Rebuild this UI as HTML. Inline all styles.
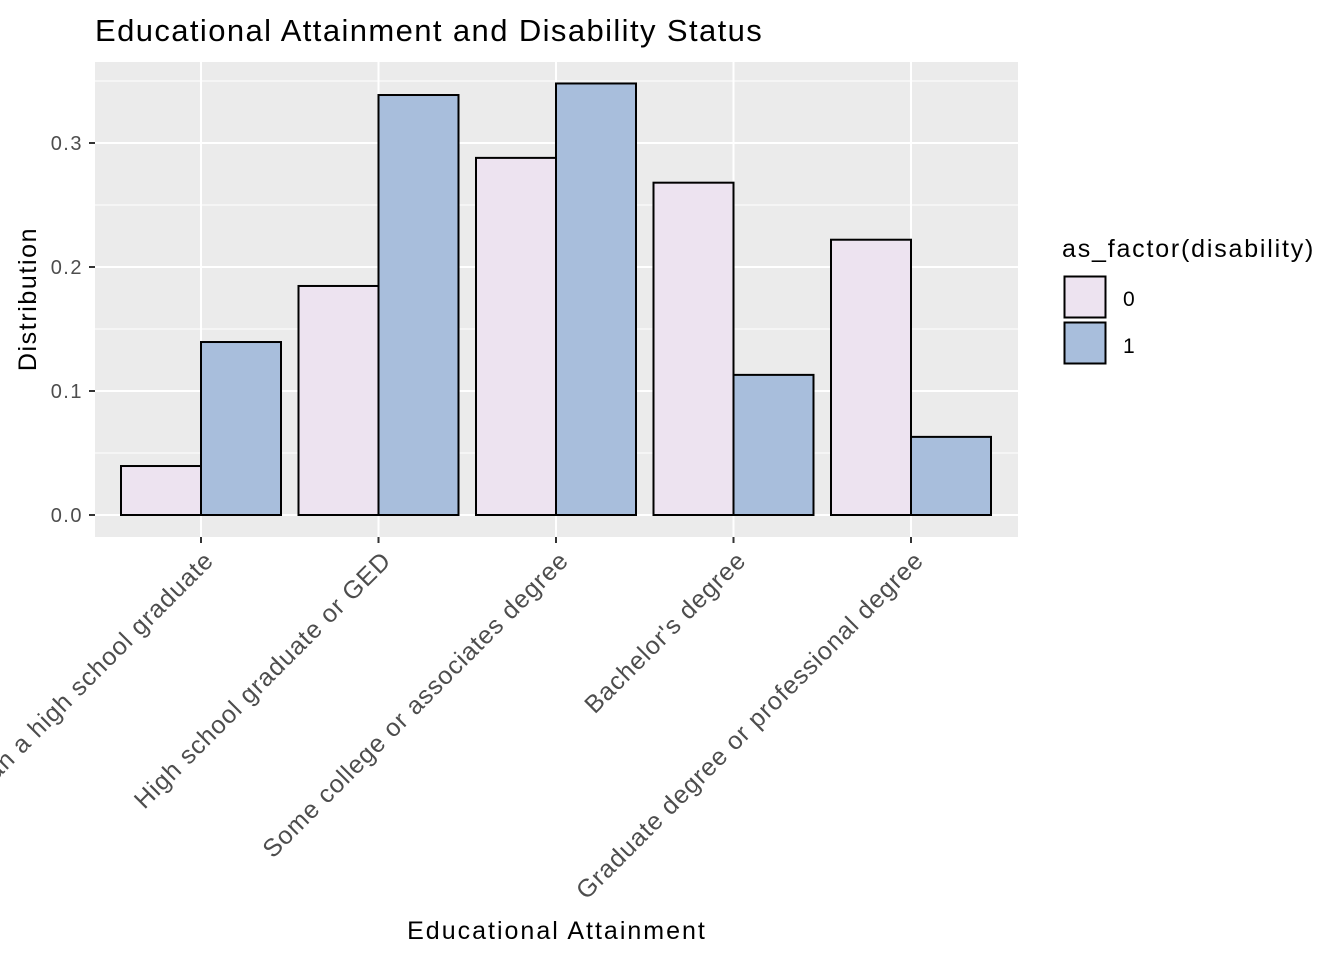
<!DOCTYPE html>
<html><head><meta charset="utf-8"><style>
body{margin:0;background:#fff}
svg text{font-family:"Liberation Sans",Arial,sans-serif}
</style></head><body>
<svg id="chart" width="1344" height="960" xmlns="http://www.w3.org/2000/svg">
<text x="95" y="41" font-size="31" letter-spacing="1.4" fill="#000">Educational Attainment and Disability Status</text>
<rect x="95" y="62" width="923" height="475" fill="#EBEBEB"/>
<g id="grid"></g><g id="bars"></g><g id="axes"></g>
<text x="557" y="939" font-size="25" letter-spacing="2" text-anchor="middle" fill="#000">Educational Attainment</text>
<text transform="translate(36,299) rotate(-90)" font-size="25" letter-spacing="1.6" text-anchor="middle" fill="#000">Distribution</text>
<g>
<text x="1062" y="257" font-size="25" letter-spacing="1.8" fill="#000">as_factor(disability)</text>
<rect x="1064.5" y="276.5" width="41" height="41" fill="#EDE3F0" stroke="#000" stroke-width="2"/>
<text x="1123" y="306" font-size="21" fill="#000">0</text>
<rect x="1064.5" y="322.5" width="41" height="41" fill="#A8BEDC" stroke="#000" stroke-width="2"/>
<text x="1123" y="353" font-size="21" fill="#000">1</text>
</g>
</svg>
<script>
const categories=["Less than a high school graduate","High school graduate or GED","Some college or associates degree","Bachelor's degree","Graduate degree or professional degree"];
const values0=[0.0395,0.1847,0.288,0.268,0.222];
const values1=[0.1395,0.3387,0.348,0.113,0.063];
const yTicks=[0,0.1,0.2,0.3];
const yTickLabels=["0.0","0.1","0.2","0.3"];
const NS="http://www.w3.org/2000/svg";
const px0=95,px1=1018;
const xC=i=>201+i*177.5;
const y=v=>515-v*1240;
function mk(t,a,p){const e=document.createElementNS(NS,t);for(const k in a)e.setAttribute(k,a[k]);p.appendChild(e);return e;}
const grid=document.getElementById('grid'),bars=document.getElementById('bars'),axes=document.getElementById('axes');
[0.05,0.15,0.25,0.35].forEach(v=>{
const l=mk('line',{x1:px0,x2:px1,y1:y(v),y2:y(v),stroke:'#fff','stroke-width':1},grid);

});
yTicks.forEach((v,i)=>{
const l=mk('line',{x1:px0,x2:px1,y1:y(v),y2:y(v),stroke:'#fff','stroke-width':2},grid);


const t=mk('line',{x1:89,x2:95,y1:y(v),y2:y(v),stroke:'#333','stroke-width':2},axes);


const tx=mk('text',{x:83,y:y(v)+7,'font-size':20,'letter-spacing':1.5,'text-anchor':'end',fill:'#4d4d4d'},axes);
tx.textContent=yTickLabels[i];

});
categories.forEach((c,i)=>{
const cx=xC(i);
const g=mk('line',{x1:cx,x2:cx,y1:62,y2:537,stroke:'#fff','stroke-width':2},grid);


const b0=mk('rect',{x:cx-80,y:y(values0[i]),width:80,height:y(0)-y(values0[i]),fill:'#EDE3F0',stroke:'#000','stroke-width':2},bars);


const b1=mk('rect',{x:cx,y:y(values1[i]),width:80,height:y(0)-y(values1[i]),fill:'#A8BEDC',stroke:'#000','stroke-width':2},bars);


const t=mk('line',{x1:cx,x2:cx,y1:537,y2:543,stroke:'#333','stroke-width':2},axes);


const tx=mk('text',{transform:`translate(${cx+14},${562}) rotate(-45)`,'font-size':25,'letter-spacing':0.9,'text-anchor':'end',fill:'#4d4d4d'},axes);
tx.textContent=c;

});
</script>
</body></html>
